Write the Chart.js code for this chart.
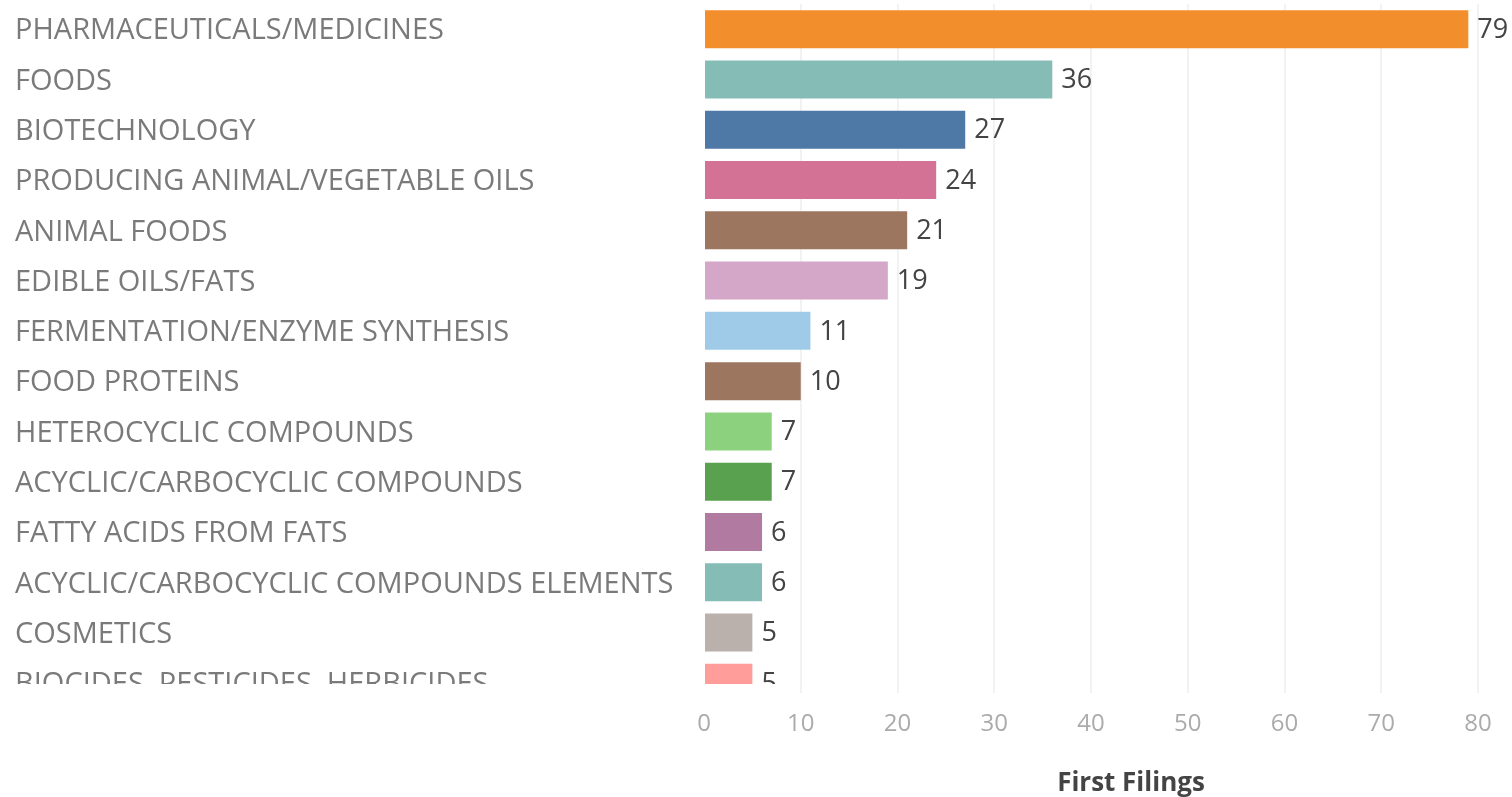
<!DOCTYPE html>
<html>
<head>
<meta charset="utf-8">
<script src="https://cdn.jsdelivr.net/npm/chart.js@4/dist/chart.umd.min.js"></script>
<style>
  html,body{margin:0;padding:0;background:#fff;}
  #page{position:relative;width:1512px;height:797px;overflow:hidden;}
  #pane{position:absolute;left:0;top:0;width:1512px;height:684px;overflow:hidden;background:#fff;z-index:2;}
  #axis{position:absolute;left:0;top:684px;z-index:1;}
</style>
</head>
<body>
<div id="page">
  <div id="pane"><canvas id="bars" width="1512" height="712"></canvas></div>
  <canvas id="axis" width="1512" height="113"></canvas>
</div>
<script>
/* ===================== dados ===================== */
const categorias = [
  'PHARMACEUTICALS/MEDICINES','FOODS','BIOTECHNOLOGY','PRODUCING ANIMAL/VEGETABLE OILS',
  'ANIMAL FOODS','EDIBLE OILS/FATS','FERMENTATION/ENZYME SYNTHESIS','FOOD PROTEINS',
  'HETEROCYCLIC COMPOUNDS','ACYCLIC/CARBOCYCLIC COMPOUNDS','FATTY ACIDS FROM FATS',
  'ACYCLIC/CARBOCYCLIC COMPOUNDS ELEMENTS','COSMETICS','BIOCIDES, PESTICIDES, HERBICIDES'
];
const filings = [79,36,27,24,21,19,11,10,7,7,6,6,5,5];
const cores = [
  '#F28E2B','#86BCB6','#4E79A7','#D37295','#9D7660','#D4A6C8','#A0CBE8',
  '#9D7660','#8CD17D','#59A14F','#B07AA1','#86BCB6','#BAB0AC','#FF9D9A'
];
const xTicks = [0,10,20,30,40,50,60,70,80];
const xTitulo = 'First Filings';

/* ---------- layout compartilhado ---------- */
const FONT = '"Open Sans", sans-serif';
const PLOT_LEFT = 704, PLOT_RIGHT_PAD = 34, LABEL_LEFT = 15;
const gridCor = c => c.tick && c.tick.value === 0 ? 'rgba(0,0,0,0)' : '#f2f2f2';

/* rótulo de valor à direita de cada barra */
const valorLabels = {
  id:'valorLabels',
  afterDatasetsDraw(chart){
    const {ctx} = chart, meta = chart.getDatasetMeta(0);
    ctx.save();
    ctx.font = `27px ${FONT}`;
    ctx.fillStyle = '#444';
    ctx.textBaseline = 'middle';
    meta.data.forEach((bar,i)=>{
      ctx.fillText(String(filings[i]), bar.x + 9, bar.y + 1);
    });
    ctx.restore();
  }
};

/* ================= barras ========================= */
new Chart(document.getElementById('bars'),{
  type:'bar',
  data:{labels:categorias,datasets:[{
    data:filings, backgroundColor:cores, borderWidth:0,
    barPercentage:0.755, categoryPercentage:1
  }]},
  options:{
    indexAxis:'y', responsive:false, animation:false, devicePixelRatio:1,
    layout:{padding:{left:LABEL_LEFT,right:PLOT_RIGHT_PAD,top:4,bottom:4}},
    plugins:{legend:{display:false},tooltip:{enabled:false}},
    scales:{
      x:{min:0,max:80,position:'bottom',
         ticks:{display:false,stepSize:10},
         grid:{color:gridCor,lineWidth:2,drawTicks:false},
         border:{display:false},
         afterFit(s){ s.height = 0; }},
      y:{ticks:{autoSkip:false,crossAlign:'far',labelOffset:2,color:'#7a7a7a',font:{family:FONT,size:29}},
         grid:{display:false},border:{display:false},
         afterFit(s){ s.width = PLOT_LEFT - LABEL_LEFT; s.paddingTop = 0; s.paddingBottom = 0; }}
    }
  },
  plugins:[valorLabels]
});

/* ================= eixo X ========================= */
const tituloEixo = {
  id:'tituloEixo',
  afterDraw(chart){
    const {ctx,chartArea:a} = chart;
    ctx.save();
    ctx.font = `bold 26px ${FONT}`;
    ctx.fillStyle = '#444';
    ctx.textAlign = 'center';
    ctx.textBaseline = 'middle';
    ctx.fillText(xTitulo, (a.left + a.right)/2 + 40, 100);
    ctx.restore();
  }
};

new Chart(document.getElementById('axis'),{
  type:'bar',
  data:{labels:[''],datasets:[{data:[null]}]},
  options:{
    indexAxis:'y', responsive:false, animation:false, devicePixelRatio:1,
    layout:{padding:{left:PLOT_LEFT,right:PLOT_RIGHT_PAD,top:0,bottom:0}},
    plugins:{legend:{display:false},tooltip:{enabled:false}},
    scales:{
      x:{min:0,max:80,
         afterBuildTicks(s){ s.ticks = xTicks.map(v=>({value:v})); },
         ticks:{color:'#ababab',padding:17,font:{family:FONT,size:24}},
         grid:{color:gridCor,lineWidth:2,drawTicks:false},
         border:{display:false},
         afterFit(s){ s.height = 104; }},
      y:{display:false}
    }
  },
  plugins:[tituloEixo]
});
</script>
</body>
</html>
